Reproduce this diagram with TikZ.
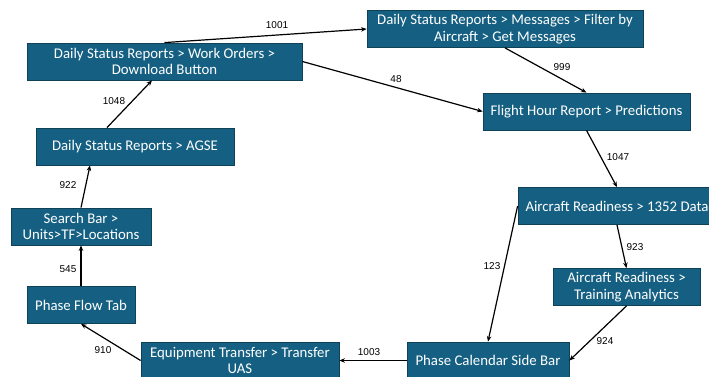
\documentclass[tikz,border=0pt]{standalone}
\usepackage{fontspec}
\setmainfont{Carlito}
\newfontfamily\lblfont{Liberation Sans}
\usetikzlibrary{arrows.meta, positioning, calc}
\definecolor{pBlue}{HTML}{156082}
\definecolor{pEdge}{HTML}{0F4157}

\begin{document}
\begin{tikzpicture}[x=1pt, y=-1pt,
      page/.style={draw=pEdge, fill=pBlue, text=white, line width=0.8pt,
        minimum height=37pt, inner sep=2pt, align=center,
        font=\fontsize{14.8}{16.7}\selectfont},
      link/.style={-{Stealth[length=5.5pt, width=4.5pt]}, line width=1.2pt},
      lbl/.style={font=\lblfont\fontsize{10}{12}\selectfont, inner sep=0pt}]
    \useasboundingbox (0,0) rectangle (709,377);
    \clip (0,0) rectangle (709,377);
    \fill[white] (0,0) rectangle (709,377);
    % screens
    \node[page, minimum width=275pt] (A) at (164.5,61.5) {Daily Status Reports > Work Orders >\\Download Button};
    \node[page, minimum width=198pt] (B) at (135,146.5) {Daily Status Reports > AGSE};
    \node[page, minimum width=140pt] (C) at (81,226.5) {Search Bar >\\Units>TF>Locations};
    \node[page, minimum width=108pt] (D) at (81,305) {Phase Flow Tab};
    \node[page, minimum width=198pt] (E) at (240,360.5) {Equipment Transfer > Transfer\\UAS};
    \node[page, minimum width=162pt] (F) at (488,360.5) {Phase Calendar Side Bar};
    \node[page, minimum width=147pt] (G) at (626.5,287) {Aircraft Readiness >\\Training Analytics};
    \node[page, minimum width=198pt] (H) at (617,206) {Aircraft Readiness > 1352 Data};
    \node[page, minimum width=207pt] (I) at (586.5,111.5) {Flight Hour Report > Predictions};
    \node[page, minimum width=276pt] (J) at (505,29) {Daily Status Reports > Messages > Filter by\\Aircraft > Get Messages};
    % off-centre ends
    \coordinate (Bs) at ([xshift=-45pt]B.south);
    \coordinate (Bn) at ([xshift=-28pt]B.north);
    \coordinate (As) at ([xshift=-12.5pt]A.south);
    % from / to / count / label position
    \foreach \s/\t/\n/\lx/\ly in {
        A.north/J.west/1001/277/25, A.east/I.west/48/396/79,
        J.south/I.north/999/562/67, I.south/H.north/1047/618/157,
        H.south/G.north/923/635/247, H.west/F.north/123/492/266,
        G.south/F.east/924/605/341, F.west/E.east/1003/369/352,
        E.west/D.south/910/103/350, D.north/C.south/545/68/269,
        C.north/Bs/922/68/185, Bn/As/1048/114/101} {
      \draw[link] (\s) -- (\t);
      \node[lbl] (l\n) at (\lx,\ly) {\n};
    }
\end{tikzpicture}
\end{document}
